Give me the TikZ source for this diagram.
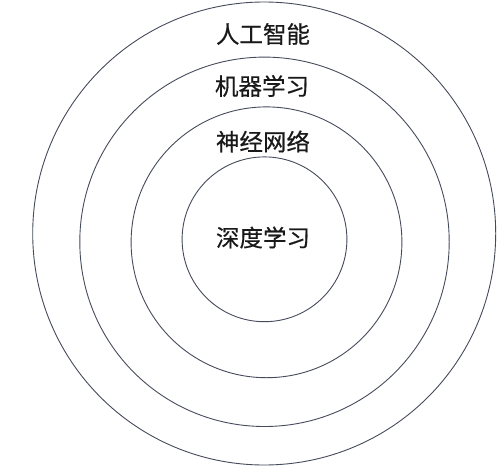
\documentclass[tikz,border=0pt]{standalone}
\usepackage{fontspec}
\newfontfamily\cjk[FakeBold=0.5]{Noto Sans CJK SC}
\definecolor{ringgray}{HTML}{454B5A}

\begin{document}
\begin{tikzpicture}[x=1pt,y=-1pt,
    ring/.style={draw=ringgray, line width=0.9pt},
    label/.style={font=\cjk\fontsize{23.5}{28}\selectfont, inner sep=0pt, text=black!90}
    ]
    \useasboundingbox (0,0) rectangle (500,471);

    % rings, outer to inner
    \draw[ring] (264.2,233.5) circle (231.5);
    \draw[ring] (264.5,241.8) circle (184.7);
    \draw[ring] (266.5,242.3) circle (135.4);
    \draw[ring] (264.5,239.3) circle (82.4);

    \node[label] (ai) at (263,34) {人工智能};
    \node[label] (ml) at (262,86) {机器学习};
    \node[label] (nn) at (263,141.5) {神经网络};
    \node[label] (dl) at (263,237.5) {深度学习};
    %
\end{tikzpicture}
\end{document}
